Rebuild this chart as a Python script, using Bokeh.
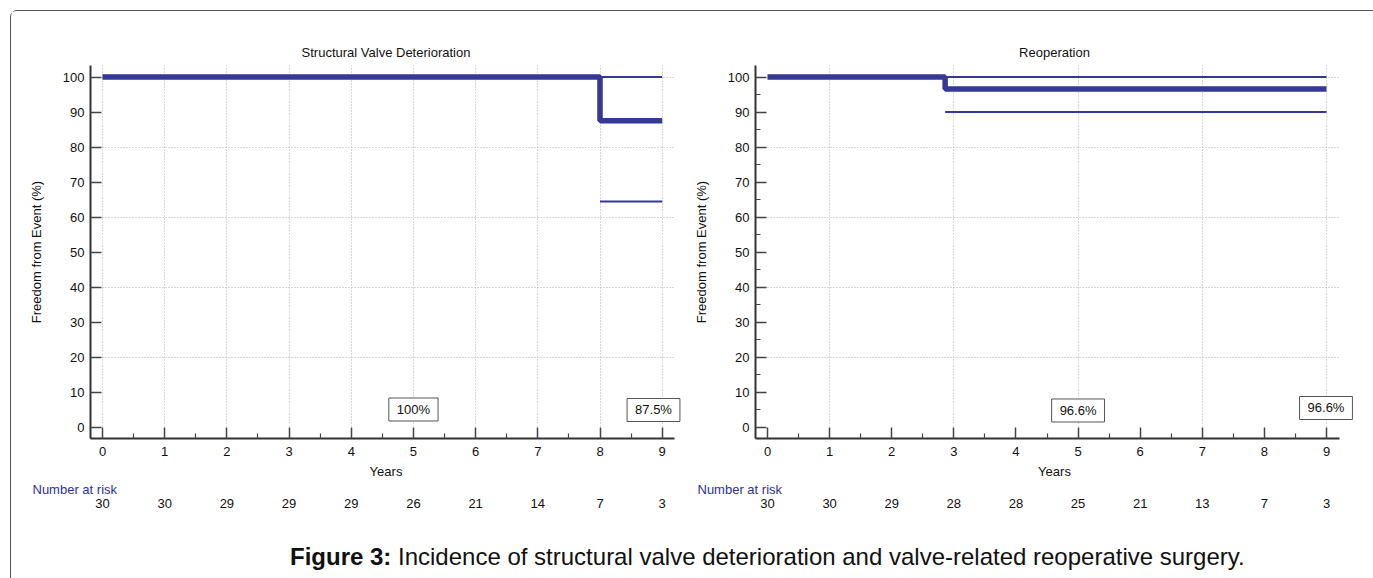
from bokeh.plotting import figure
from bokeh.models import Range1d, FixedTicker, Label, Div, LinearAxis, Title
from bokeh.layouts import column, row
from bokeh.embed import file_html
from bokeh.resources import INLINE

# ---------------- data ----------------
years = [0, 1, 2, 3, 4, 5, 6, 7, 8, 9]

svd_title = "Structural Valve Deterioration"
svd_time = [0, 8, 9]
svd_surv = [100, 87.5, 87.5]
svd_ci_time = [8, 9]
svd_ci_upper = [100, 100]
svd_ci_lower = [64.5, 64.5]
svd_at_risk = [30, 30, 29, 29, 29, 26, 21, 14, 7, 3]
svd_box_years = [5, 9]
svd_box_text = ["100%", "87.5%"]

reop_title = "Reoperation"
reop_time = [0, 2.86, 9]
reop_surv = [100, 96.6, 96.6]
reop_ci_time = [2.86, 9]
reop_ci_upper = [100, 100]
reop_ci_lower = [90, 90]
reop_at_risk = [30, 30, 29, 28, 28, 25, 21, 13, 7, 3]
reop_box_years = [5, 9]
reop_box_text = ["96.6%", "96.6%"]

y_ticks = [0, 10, 20, 30, 40, 50, 60, 70, 80, 90, 100]
y_grid = [20, 40, 60, 80, 100]

FONT = "Liberation Sans"
BLUE = "#353895"
RISK_BLUE = "#2e3192"


def make_panel(title, t, s, ci_t, ci_u, ci_l, at_risk, box_years, box_text,
               box_offsets, xgrid_ticks, y_minor, width, frame_left, px0, px9,
               axis_right, frame_right):
    k = (px9 - px0) / 9.0
    x_start = -(px0 - frame_left) / k
    x_end = 9 + (frame_right - px9) / k
    axis_end = 9 + (axis_right - px9) / k
    mb_right = width - frame_right

    p = figure(width=width, height=504, output_backend="svg", toolbar_location=None,
               x_range=Range1d(x_start, x_end), y_range=Range1d(-3.14, 103.3),
               min_border_left=frame_left, min_border_right=mb_right,
               min_border_top=54, min_border_bottom=77)
    p.outline_line_color = None
    p.title.text = title
    p.title.align = "center"
    p.title.text_font = FONT
    p.title.text_font_size = "13px"
    p.title.text_font_style = "normal"
    p.title.text_color = "#111111"
    p.title.standoff = 12

    for ax in (p.xaxis[0], p.yaxis[0]):
        ax.axis_line_width = 2
        ax.axis_line_color = "#333333"
        ax.major_tick_in = 11
        ax.major_tick_out = 0
        ax.minor_tick_in = 5
        ax.minor_tick_out = 0
        ax.major_tick_line_color = "#444444"
        ax.major_tick_line_width = 1.5
        ax.minor_tick_line_color = "#444444"
        ax.minor_tick_line_width = 1.2
        ax.major_label_text_font = FONT
        ax.major_label_text_font_size = "13px"
        ax.major_label_text_color = "#111111"
        ax.axis_label_text_font = FONT
        ax.axis_label_text_font_size = "13px"
        ax.axis_label_text_font_style = "normal"
        ax.axis_label_text_color = "#111111"
    p.xaxis.ticker = FixedTicker(ticks=years, minor_ticks=[y + 0.5 for y in years[:-1]])
    p.xaxis.bounds = (x_start, axis_end)
    p.yaxis.ticker = FixedTicker(ticks=y_ticks, minor_ticks=y_minor)
    p.xaxis.major_label_standoff = 8
    p.xaxis.axis_label = "Years"
    p.xaxis.axis_label_standoff = 5
    p.yaxis.major_label_standoff = 6
    p.yaxis.axis_label = "Freedom from Event (%)"
    p.yaxis.axis_label_standoff = 16

    p.xgrid.ticker = FixedTicker(ticks=xgrid_ticks)
    p.ygrid.ticker = FixedTicker(ticks=y_grid)
    p.ygrid.cross_bounds = (x_start, axis_end)
    for g in (p.xgrid[0], p.ygrid[0]):
        g.grid_line_color = "#b0b0b0"
        g.grid_line_dash = "1 2"
        g.grid_line_width = 1

    p.step(t, s, mode="after", line_width=5.5, line_color=BLUE)
    p.line(ci_t, ci_u, line_width=2, line_color=BLUE)
    p.line(ci_t, ci_l, line_width=2, line_color=BLUE)

    for bx, bt, (dx, dy) in zip(box_years, box_text, box_offsets):
        p.add_layout(Label(x=bx, y=0, x_offset=dx, y_offset=dy, text=bt,
                           text_align="center", text_baseline="middle",
                           text_font=FONT, text_font_size="13px", text_color="#111111",
                           background_fill_color="white", border_line_color="#555555",
                           border_line_width=1, padding=(8, 4)))

    # "Number at risk" heading and the counts under each year
    p.add_layout(Title(text="Number at risk", align="left", offset=-58, standoff=0,
                       vertical_align="top", text_line_height=0.7,
                       text_font=FONT, text_font_size="13px", text_font_style="normal",
                       text_color=RISK_BLUE), "below")
    risk = LinearAxis(ticker=FixedTicker(ticks=years),
                      major_label_overrides={yr: str(n) for yr, n in zip(years, at_risk)},
                      axis_line_color=None, major_tick_line_color=None,
                      minor_tick_line_color=None, major_tick_in=0, major_tick_out=0,
                      minor_tick_in=0, minor_tick_out=0, major_label_standoff=0,
                      major_label_text_font=FONT, major_label_text_font_size="13px",
                      major_label_text_color="#111111")
    p.add_layout(risk, "below")
    return p


p1 = make_panel(svd_title, svd_time, svd_surv, svd_ci_time, svd_ci_upper, svd_ci_lower,
                svd_at_risk, svd_box_years, svd_box_text, [(0, 18), (-8.7, 17.5)],
                years, [], 674, 79, 91, 650.7, 663, 670)
p2 = make_panel(reop_title, reop_time, reop_surv, reop_ci_time, reop_ci_upper, reop_ci_lower,
                reop_at_risk, reop_box_years, reop_box_text, [(0, 17), (-0.5, 19.5)],
                [1, 3, 5, 7, 9], [5, 15, 25, 35, 45, 55, 65, 75, 85, 95], 683,
                70, 82, 641, 654, 668)

cap = Div(text='<div style="font-family: \'Liberation Sans\', Arial, sans-serif; font-size:24px; '
               'color:#111; padding-left:274px; padding-top:20px; white-space:nowrap;">'
               '<b>Figure 3:</b> Incidence of structural valve deterioration and '
               'valve-related reoperative surgery.</div>',
          width=1357, height=70)

layout = column(row(p1, p2, spacing=0), cap, spacing=0,
                styles={"border": "1.5px solid #555", "border-radius": "7px"},
                margin=(10, 0, 0, 10))

open("out.html", "w").write(file_html(layout, INLINE))
